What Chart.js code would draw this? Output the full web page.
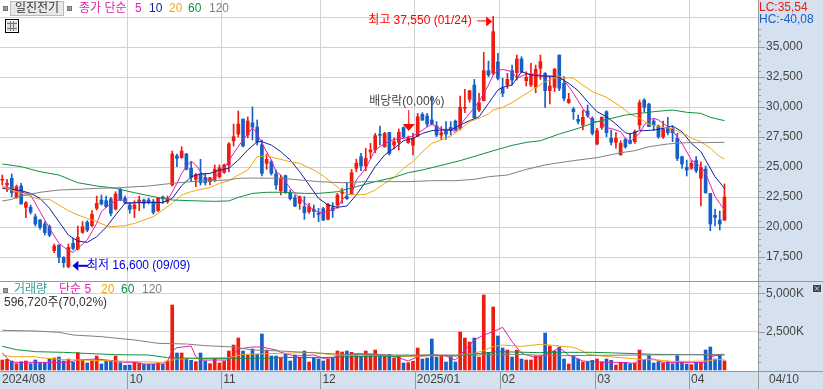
<!DOCTYPE html>
<html><head><meta charset="utf-8">
<style>html,body{margin:0;padding:0;background:#d6e1ef}canvas{display:block}</style>
<script src="https://cdn.jsdelivr.net/npm/chart.js@4"></script></head>
<body><canvas id="c" width="823" height="389"></canvas>
<script>
const opens=[23900,23500,24060,22470,23420,21640,21640,20860,20580,20250,
20030,18030,18500,17470,16690,18640,18170,19550,20390,20110,
21560,22250,22190,22330,21500,23140,22390,21830,21530,22080,
22250,22250,22110,21360,22500,22110,23500,25920,25780,26080,
24890,23970,24420,24140,23780,23970,24190,24560,25170,27170,
27750,29000,27670,28670,28330,26860,25300,25440,24420,23030,
24280,22860,22440,21970,21690,21280,21470,21140,21530,20640,
21610,21830,22800,22530,22750,24890,25860,25080,26250,26420,
27700,26690,27890,26830,27050,28280,27030,26810,27580,29390,
29250,28920,28420,27670,28030,28300,28830,28220,29890,30640,
31830,29750,30530,33030,32810,33750,31610,31830,33030,32860,
34000,32190,31830,31640,33220,32800,31360,31640,34330,31970,
30360,29830,28970,28500,29670,29050,26920,28300,29610,27390,
27060,26000,27300,27170,27110,28500,30580,30250,28830,28420,
27530,28220,28220,27390,25860,24970,24890,25530,24060,24830,
22800,20970,20580,20580];
const closes=[23950,23640,22860,23360,21920,22030,21250,20250,19970,19530,
19330,18420,17470,17030,18300,18220,19140,20030,19750,21050,
21970,21920,21690,21140,22750,22250,22030,21470,21830,22250,
21970,22080,21220,22390,22360,22390,26080,25720,26330,24810,
24140,24360,23690,23690,24110,24810,24940,25170,26920,27530,
28580,26750,28830,28330,27080,24470,25640,24470,23500,23970,
22860,22360,21750,22530,21190,21690,21300,21050,20580,21890,
21360,22670,22940,22360,24530,25310,25080,25720,26420,27610,
27640,27800,26140,27110,27890,27530,27390,27390,29190,28920,
28580,28580,27670,27860,27750,28030,28080,29970,29970,31360,
29110,30360,33030,32670,36280,32390,31140,32300,32250,34000,
32940,32470,32750,33140,33780,31360,31750,33140,31560,30720,
30640,29610,28800,29140,29280,27800,28030,29140,27860,27060,
27390,26970,26690,26970,27940,30360,29970,28360,28500,27530,
28140,27860,27860,25720,25250,24750,25310,24690,24970,22860,
20250,20800,20250,22500];
const highs=[24330,23970,24420,23500,23640,22110,21830,21080,20640,20440,
20170,18580,18500,17530,18580,19050,20080,20440,20530,21360,
22580,22670,22580,22470,22940,23220,22580,22050,22190,22580,
22330,22390,22300,22470,22580,22580,26330,26080,26690,26140,
25440,24470,25640,24470,24140,25170,25170,25250,27030,28580,
29670,29000,29170,30000,28920,27250,26080,25580,24750,24330,
24330,23080,22670,22580,22530,21970,21830,21550,21640,21970,
22030,22800,23220,23640,24800,25640,26140,26560,26970,27800,
28420,27890,27890,27440,28170,28360,27580,27800,29470,29530,
29470,30920,28780,28360,28780,28780,28920,30920,31470,31360,
32300,31140,34550,33830,37550,34470,32390,32810,33500,34330,
34190,32940,33640,33500,34330,32860,32530,33220,34330,32530,
31140,29970,29330,29750,30170,29190,28220,29190,29690,28080,
27860,27190,27390,27810,28080,30580,30690,30300,28970,28500,
28830,29140,28420,27810,25920,25580,25530,25860,25440,25080,
22800,21500,21330,23580];
const lows=[23500,22940,22530,22390,21920,20780,21080,20080,19800,19330,
19190,17860,17030,16640,16600,18080,18080,19470,19610,20030,
21420,21830,21610,20920,21420,22190,21920,21140,20780,21360,
21560,21920,21080,21300,21970,21970,23420,25030,25720,24750,
23780,23360,23500,23500,23500,23780,24060,24470,24610,26750,
27500,26670,27420,27250,26830,24250,24800,24330,23140,22670,
22800,22250,21690,21470,20640,21140,20800,20440,20530,20580,
20800,21550,21970,22300,22670,24610,24690,24690,25720,26190,
26830,26640,26000,26500,26420,27390,26970,26000,27530,28860,
28360,28500,27530,27300,27300,27670,28030,28080,29530,30400,
29050,29610,30500,32530,32670,32250,30860,31550,31830,32250,
32860,31750,31690,31190,32300,29970,30250,31280,31360,30500,
30300,28970,28580,28080,29140,27670,26830,28140,27530,26830,
26560,26000,26560,26920,26970,28140,29610,28360,28030,27390,
27390,27670,27110,25530,24890,24250,24800,24530,21750,22800,
19690,20080,19750,20530];
const volumes=[652,696,587,413,544,587,413,652,478,478,
717,783,848,587,717,500,1130,630,457,609,
913,391,587,587,913,478,304,326,500,457,
370,370,370,457,370,587,4240,1109,1109,739,
630,544,1109,587,413,761,457,587,1239,1630,
2087,1239,978,1370,1022,2348,1304,913,913,761,
1022,587,978,804,1239,522,804,717,587,717,
804,1239,1174,1239,1152,1022,891,1239,1022,1304,
913,913,1022,783,913,457,478,565,1435,717,
783,2022,848,913,522,870,522,2478,2087,1826,
2087,848,4891,1152,4109,2217,1435,1304,848,1283,
717,652,652,913,913,2413,1565,1239,1500,717,
391,913,717,522,522,630,717,544,717,630,
326,500,500,413,457,1304,652,935,457,544,
457,544,413,935,522,391,348,500,500,1304,
1500,717,978,597];
const ma5=[[0,23360],[2,23220],[4,22940],[6,22670],[8,21280],[9,20580],[10,19890],[12,18640],[14,18030],[15,17890],[16,18220],[18,18920],[20,20300],[21,21280],[23,21970],[25,22300],[27,21970],[29,22050],[31,22050],[33,21970],[35,22190],[37,23640],[38,24470],[39,25030],[40,25500],[41,25170],[42,24610],[44,23780],[45,24140],[47,24890],[49,26140],[51,27250],[53,28250],[54,27800],[55,26970],[57,25580],[58,24610],[59,24330],[61,23220],[63,22390],[65,21690],[67,21190],[69,21280],[71,21640],[72,22250],[73,22670],[74,22750],[75,23920],[77,24890],[79,26420],[81,26970],[83,27300],[85,27390],[87,27580],[89,28080],[91,28580],[93,28140],[95,28140],[96,27860],[97,28500],[99,29470],[101,30440],[103,31830],[104,32670],[105,33030],[106,33140],[108,32940],[109,32390],[111,32750],[113,32750],[115,32530],[117,32580],[119,32250],[121,31140],[123,29890],[125,28780],[127,28780],[128,28250],[129,28220],[131,27940],[132,27390],[133,27110],[135,27800],[136,28500],[137,28920],[138,29060],[139,28920],[141,28360],[142,28030],[144,26970],[146,25580],[148,25030],[149,24470],[151,22530],[153,21420]];
const ma10=[[0,23220],[2,23140],[4,23030],[6,22800],[8,22390],[10,21560],[12,20440],[14,19330],[16,18830],[18,18720],[20,19190],[22,19970],[24,21000],[26,21970],[28,22030],[30,22030],[32,22050],[34,22030],[36,22390],[38,23440],[40,24190],[42,24420],[44,24470],[46,24750],[48,24890],[50,25580],[52,26420],[54,27110],[55,27110],[57,26830],[59,26280],[61,25580],[63,24610],[65,23500],[67,22390],[69,21830],[71,21640],[73,21750],[75,22670],[77,23780],[79,25030],[81,26000],[83,26560],[85,27190],[87,27390],[89,27800],[91,28030],[93,28080],[95,28080],[97,28500],[99,28860],[101,29190],[103,30300],[105,31420],[106,31640],[108,31830],[110,32940],[112,32670],[114,32580],[116,32580],[118,32470],[120,31970],[122,31360],[124,30440],[126,29610],[128,29190],[130,28580],[132,27860],[133,27750],[135,28030],[136,28030],[138,28080],[140,28220],[142,28420],[144,27940],[146,26970],[148,26280],[149,25580],[151,24190],[153,23220]];
const ma20=[[0,23360],[2,23080],[6,22530],[8,22300],[10,22300],[12,21830],[14,21360],[16,21000],[18,20720],[20,20440],[22,20110],[23,20030],[26,20110],[28,20300],[30,20580],[32,20860],[34,21420],[36,21970],[38,22670],[40,22940],[42,23140],[44,23280],[46,23640],[48,23860],[50,24330],[52,24750],[54,25860],[56,25940],[58,25720],[59,25640],[61,25440],[63,25300],[66,24750],[68,24250],[70,23640],[72,23030],[73,22750],[75,22670],[77,22720],[79,23080],[81,23640],[83,24140],[85,24890],[87,25440],[89,26280],[91,26970],[93,27250],[95,27580],[97,28140],[99,28780],[101,29060],[103,29420],[104,29750],[106,29970],[108,30360],[110,30860],[112,31360],[115,32110],[118,32580],[119,32390],[120,32440],[121,32390],[123,31830],[125,31280],[128,30810],[131,30030],[133,29420],[135,29050],[137,28580],[139,28360],[142,28200],[144,27800],[145,27670],[146,27390],[147,27250],[148,27110],[150,26560],[152,25860],[153,25670]];
const ma60=[[0,25250],[4,25030],[8,24610],[12,24330],[16,23690],[20,23420],[24,23220],[28,22860],[32,22530],[36,22250],[40,22190],[45,22140],[48,22170],[50,22470],[53,22800],[56,22890],[59,22900],[64,22800],[67,22800],[71,22940],[75,23360],[79,23780],[83,24140],[86,24530],[89,24750],[93,25140],[97,25530],[101,26000],[105,26470],[108,26800],[111,27050],[114,27190],[118,27750],[122,28220],[126,28780],[129,29050],[132,29330],[135,29470],[138,29610],[142,29750],[145,29560],[148,29470],[150,29140],[153,28860]];
const ma120=[[0,22170],[2,22300],[4,22580],[8,22890],[12,23080],[16,23140],[20,23220],[25,23280],[31,23420],[36,23640],[40,23780],[44,23860],[48,23920],[50,24060],[53,24080],[59,24060],[63,23920],[67,23780],[72,23690],[77,23780],[81,23780],[86,23780],[91,23860],[96,23860],[100,23970],[103,24190],[107,24330],[111,24800],[115,25170],[118,25360],[122,25580],[126,25780],[131,26190],[134,26360],[137,26690],[141,26920],[145,27030],[149,27030],[153,27060]];
const volMa5=[[0,1130],[1,761],[2,500],[9,500],[14,500],[16,652],[20,717],[24,587],[26,500],[28,500],[30,391],[34,391],[35,587],[36,1239],[37,1457],[40,1565],[41,870],[42,652],[44,652],[47,652],[48,652],[49,1022],[50,1370],[53,1500],[55,1500],[58,1304],[59,1152],[62,913],[66,978],[68,761],[70,804],[72,978],[75,1065],[79,1044],[81,978],[84,804],[86,587],[88,870],[91,978],[94,913],[96,652],[98,1304],[100,1957],[102,2283],[104,2500],[106,2783],[108,1848],[110,1087],[113,804],[116,1087],[118,1457],[120,978],[123,587],[127,500],[131,500],[134,435],[135,674],[138,717],[140,500],[143,500],[146,500],[149,500],[150,870],[152,978]];
const volMa20=[[0,978],[2,870],[7,870],[8,804],[13,674],[19,630],[24,587],[29,544],[34,500],[35,587],[37,717],[42,761],[48,804],[49,870],[51,1022],[56,1065],[59,1087],[66,1152],[70,978],[79,957],[83,913],[87,891],[91,935],[96,935],[100,1087],[102,1283],[104,1522],[106,1630],[110,1543],[114,1674],[116,1630],[118,1565],[121,1478],[123,1239],[124,1022],[127,913],[131,804],[133,761],[136,674],[139,652],[142,565],[146,565],[149,587],[151,674],[153,674]];
const volMa60=[[0,1543],[3,1326],[7,1196],[13,1152],[19,1065],[24,1000],[31,978],[35,804],[42,761],[49,761],[57,761],[59,826],[67,804],[73,848],[80,913],[83,891],[91,978],[96,913],[100,1043],[105,1196],[114,1130],[115,1152],[125,1152],[130,1109],[138,1022],[153,978]];
const volMa120=[[0,2587],[7,2543],[12,2457],[15,2283],[21,2174],[28,1957],[33,1739],[39,1696],[43,1587],[49,1500],[53,1304],[59,1239],[68,1087],[73,1022],[83,978],[91,978],[96,978],[101,978],[108,1022],[118,935],[153,1022]];
const monthTicks=[[-0.487,'2024/08'],[26.5,'10'],[46.4,'11'],[67.4,'12'],[87.4,'2025/01'],[105.4,'02'],[125.6,'03'],[145.5,'04'],[162,'04/10']];
const priceLabels=[17500,20000,22500,25000,27500,30000,32500,35000];
const volLabels=[2500,5000];
const stockName='일진전기', lowText='최저 16,600 (09/09)', highText='최고 37,550 (01/24)', divText='배당락(0,00%)', volNow='596,720주(70,02%)';
const lowIndex=14, highIndex=104, divIndex=86;

const RED='#ee1c0e',BLUE='#1560c8',MAG='#e020b0',NAVY='#1022a0',ORG='#f0a810',GRN='#109040',GRY='#808080';
const FONT="12px 'Liberation Sans','Noto Sans CJK KR',sans-serif";
const up=i=>closes[i]>=opens[i];
const idx=opens.map((_,i)=>i);
const colors=idx.map(i=>up(i)?RED:BLUE);
const line=(arr,color,axis)=>({type:'line',data:arr.map(p=>({x:p[0],y:p[1]})),borderColor:color,borderWidth:1,pointRadius:0,tension:0,yAxisID:axis,order:0,spanGaps:true});
const wicks={type:'bar',data:idx.map(i=>({x:i,y:[lows[i],highs[i]]})),backgroundColor:colors,barThickness:1,yAxisID:'y',order:2,grouped:false};
const bodies={type:'bar',data:idx.map(i=>({x:i,y:[opens[i],closes[i]]})),backgroundColor:colors,barThickness:3,minBarLength:1,yAxisID:'y',order:1,grouped:false};
const vols={type:'bar',data:idx.map(i=>({x:i,y:volumes[i]})),backgroundColor:colors,barThickness:3,yAxisID:'v',order:1,grouped:false};
const noPad=s=>{s.paddingTop=0;s.paddingBottom=0;s.paddingLeft=0;s.paddingRight=0;};

function text(ctx,s,x,y,color,align){ctx.fillStyle=color;ctx.textAlign=align||'left';ctx.textBaseline='middle';ctx.fillText(s,x,y);}
function box(ctx,x,y,w,h){ctx.fillStyle='#999';ctx.fillRect(x,y,w,h);ctx.strokeStyle='#777';ctx.strokeRect(x+.5,y+.5,w-1,h-1);}
const deco={id:'deco',
 beforeDraw(c){const a=c.chartArea,g=c.ctx;g.save();g.fillStyle='#d6e1ef';g.fillRect(0,0,823,389);g.fillStyle='#fff';g.fillRect(a.left,a.top,a.right-a.left,a.bottom-a.top);g.restore();},
 afterDraw(c){const g=c.ctx,a=c.chartArea,X=c.scales.x,Y=c.scales.y,V=c.scales.v;g.save();g.font=FONT;
  g.fillStyle='#999';g.fillRect(0,281,823,1);g.fillRect(0,371,823,1);g.fillRect(a.right,0,1,389);
  X.ticks.forEach(t=>{if(t.value>-0.4&&t.value<160){const px=Math.round(X.getPixelForValue(t.value));g.fillRect(px,371,1,18);}});
  for(const [S,list,maj] of [[Y,Y.ticks.filter(t=>t.value<37000),2500],[V,V.ticks,2500]]){list.forEach(t=>{const py=Math.round(S.getPixelForValue(t.value));const big=t.value%maj===0;g.fillRect(a.right,py,big?7:3,1);});}
  box(g,3,6,5,5);
  g.fillStyle='#e8e8e8';g.fillRect(10,1,53,14);g.strokeStyle='#bbb';g.strokeRect(10.5,1.5,53,14);
  text(g,stockName,15,8.5,'#333');
  box(g,67,6,5,5);
  text(g,'종가 단순',79,8.5,MAG);text(g,'5',135,8.5,MAG);text(g,'10',149,8.5,NAVY);text(g,'20',169,8.5,ORG);text(g,'60',188,8.5,GRN);text(g,'120',209,8.5,GRY);
  g.strokeStyle='#000';g.strokeRect(5.5,19.5,13,13);g.fillStyle='#ddd';g.fillRect(7,21,10,10);g.strokeStyle='#777';g.beginPath();
  for(const x of [10.5,13.5]){g.moveTo(x,21);g.lineTo(x,31);}for(const y of [23.5,28.5]){g.moveTo(7,y);g.lineTo(17,y);}g.stroke();
  text(g,'LC:35,54',759,7.5,RED);text(g,'HC:-40,08',759,19.5,BLUE);
  box(g,3,288,5,5);
  text(g,'거래량',14,290,'#3a9a9a');text(g,'단순 5',59,290,MAG);text(g,'20',101,290,ORG);text(g,'60',121,290,GRN);text(g,'120',142,290,GRY);
  text(g,volNow,4,303,'#333');
  g.fillStyle='#444';g.fillRect(813,285,8,7);g.strokeStyle='#ddd';g.beginPath();g.moveTo(815,286.5);g.lineTo(819,290.5);g.moveTo(819,286.5);g.lineTo(815,290.5);g.stroke();
  const lx=X.getPixelForValue(lowIndex),ly=Y.getPixelForValue(lows[lowIndex]);
  g.fillStyle='#0000dd';g.beginPath();g.moveTo(lx+4,ly-2);g.lineTo(lx+10,ly-7);g.lineTo(lx+10,ly+3);g.closePath();g.fill();g.fillRect(lx+10,ly-3,10,2);
  text(g,lowText,lx+18.5,ly-2.5,'#0000dd');
  const hx=X.getPixelForValue(highIndex),hy=Y.getPixelForValue(highs[highIndex]);
  g.fillStyle='#f00';g.beginPath();g.moveTo(hx-1,hy+5);g.lineTo(hx-7,hy);g.lineTo(hx-7,hy+10);g.closePath();g.fill();g.fillRect(hx-16,hy+4,10,1);
  text(g,highText,hx-125,hy+4.5,'#f00');
  const dx=X.getPixelForValue(divIndex);
  g.fillStyle='#f00';g.fillRect(dx,110,1,15);g.beginPath();g.moveTo(dx-5.5,124);g.lineTo(dx+6.5,124);g.lineTo(dx+.5,131);g.closePath();g.fill();
  text(g,divText,dx-39,102,'#444');
  g.restore();}
};
new Chart(document.getElementById('c'),{
 data:{datasets:[bodies,wicks,line(ma120,GRY,'y'),line(ma60,GRN,'y'),line(ma20,ORG,'y'),line(ma10,NAVY,'y'),line(ma5,MAG,'y'),
  vols,line(volMa120,GRY,'v'),line(volMa60,GRN,'v'),line(volMa20,ORG,'v'),line(volMa5,MAG,'v')]},
 options:{responsive:false,animation:false,events:[],layout:{padding:0,autoPadding:false},
  plugins:{legend:{display:false},tooltip:{enabled:false}},
  scales:{
   x:{type:'linear',offset:false,min:-0.487,max:160.1,position:'bottom',
    afterBuildTicks(s){s.ticks=monthTicks.map(m=>({value:m[0]}));},
    afterFit(s){s.height=18;noPad(s);},
    grid:{offset:false,drawTicks:false,color:c=>(c.tick&&c.tick.value>-0.4&&c.tick.value<160)?'#d2d2d2':'rgba(0,0,0,0)'},
    border:{display:false},
    ticks:{autoSkip:false,maxRotation:0,minRotation:0,align:'start',padding:1,labelOffset:2,font:{family:"'Liberation Sans','Noto Sans CJK KR',sans-serif",size:12},color:'#444',
     callback(v){const m=monthTicks.find(t=>t[0]===v);return m?m[1]:'';}}},
   y:{type:'linear',position:'right',stack:'p',stackWeight:281,min:15500,max:38917,
    afterBuildTicks(s){const t=[];for(let k=16000;k<=36500;k+=500)t.push({value:k});t.push({value:37500});s.ticks=t;},
    afterFit(s){s.width=65;noPad(s);},
    grid:{drawTicks:false,color:c=>{const v=c.tick&&c.tick.value;return v%2500===0?'#d2d2d2':'rgba(0,0,0,0)';}},
    border:{display:false},
    ticks:{autoSkip:false,padding:8,font:{family:"'Liberation Sans',sans-serif",size:12},color:'#444',callback(v){return priceLabels.includes(v)?v.toLocaleString('en-US'):'';}}},
   v:{type:'linear',position:'right',stack:'p',stackWeight:90,min:-65,max:5803,
    afterBuildTicks(s){const t=[];for(let k=500;k<=5500;k+=500)t.push({value:k});s.ticks=t;},
    afterFit(s){s.width=65;noPad(s);},
    grid:{drawTicks:false,color:c=>volLabels.includes(c.tick&&c.tick.value)?'#d2d2d2':'rgba(0,0,0,0)'},
    border:{display:false},
    ticks:{autoSkip:false,padding:8,font:{family:"'Liberation Sans',sans-serif",size:12},color:'#444',callback(v){return volLabels.includes(v)?v.toLocaleString('en-US')+'K':'';}}}
  }},
 plugins:[deco]
});
</script></body></html>
